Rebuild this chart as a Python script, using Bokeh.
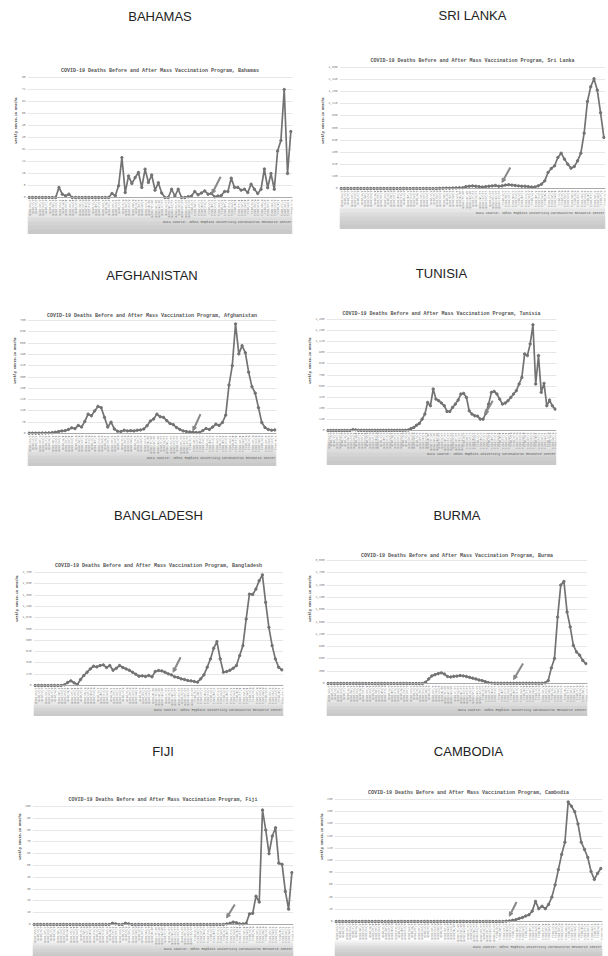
import pandas as pd
from bokeh.plotting import figure
from bokeh.models import (Range1d, FixedTicker, NumeralTickFormatter, Title, Arrow, NormalHead)
from bokeh.core.properties import value
from bokeh.layouts import column, row
from bokeh.embed import file_html
from bokeh.resources import INLINE

START_DATE = "2020-01-26"

BAHAMAS = [0, 0, 0, 0, 0, 0, 0, 0, 0, 6.7, 2.2, 1.1, 2.2, 0,
           0, 0, 0, 0, 0, 0, 0, 0, 0, 0, 0,
           2.7, 1.1, 7.8, 26.6, 3.3, 14.4, 9.3, 13.3, 16.7, 6.7, 18.9, 10, 15, 4.9, 9.8,
           3, 0, 0, 5.5, 1, 5.5, 0, 0, 0.5, 1,
           4, 1.8, 3, 4.4, 2.2, 2.7, 0.4, 1, 1.3, 4,
           4, 12.9, 6.7, 6.7, 4.9, 5.5, 3.3, 8.9, 5.5, 2.7,
           5.5, 19, 6.5, 16, 5.5, 31, 38, 72, 16, 44]
SRI_LANKA = [0] * 30 + [2, 3, 5, 4, 6, 8, 10,
             10, 25, 30, 35, 30, 25, 20, 25, 30, 35, 40, 30, 35,
             45, 50, 45, 40, 35, 30, 30, 25, 20, 20,
             35, 57, 101, 212, 265, 300, 410, 467, 388, 322,
             269, 291, 366, 467, 732, 1151, 1345, 1451, 1301, 1001, 675]
AFGHANISTAN = [2, 2, 2, 2, 3, 3, 4, 5, 8, 12, 16, 18, 25, 35, 30, 50, 40, 75, 120, 110,
               140, 168, 160, 100, 40, 70, 28, 14, 12, 20, 16, 18, 16, 20, 22, 28, 48, 77, 90, 120,
               104, 100, 80, 62, 55, 37, 25, 16, 12, 10, 8, 6, 6, 18, 31, 25, 40, 58, 50, 68,
               114, 300, 420, 679, 493, 544, 500, 380, 290, 250, 160, 68, 37, 25, 20, 22]
TUNISIA = [0] * 9 + [10, 8] + [2] * 17 + [
           3, 6, 25, 38, 67, 89, 143, 207, 354, 312,
           523, 396, 375, 346, 312, 240, 240, 291, 333, 384,
           460, 468, 417, 249, 207, 186, 181, 143, 143, 215,
           333, 481, 493, 460, 396, 333, 346, 375, 417, 460,
           502, 586, 670, 966, 945, 1092, 1333, 586, 945, 481,
           595, 312, 384, 312, 270]
BANGLADESH = [0] * 9 + [10, 45, 70, 40, 15, 90, 150, 200, 250, 290,
              280, 300, 310, 270, 300, 230, 260, 300, 270, 250,
              230, 200, 170, 140, 145, 135, 150, 130, 210, 225,
              220, 200, 175, 160, 130, 120, 100, 90, 75, 70,
              60, 50, 100, 160, 275, 400, 560, 660, 400, 200,
              210, 230, 260, 300, 450, 600, 1000, 1375, 1370, 1450,
              1575, 1665, 1250, 875, 600, 400, 275, 235]
BURMA = [0] * 31 + [30, 110, 185, 215, 240, 260, 230, 170, 160, 175,
         180, 195, 185, 170, 150, 130, 110, 85, 70, 45, 20, 10] + [5] * 16 + [
         15, 70, 380, 610, 1620, 2400, 2490, 1745, 1380, 930, 770, 690, 560, 485]
FIJI = [0] * 24 + [1, 0.5, 0, 0, 1, 0.5] + [0] * 29 + [
        0.5, 1, 2, 1.5, 0.5, 0.5, 1, 9, 9.5, 24, 19, 97, 80, 60, 75, 82, 52, 51, 28, 13, 44]
CAMBODIA = [0] * 52 + [0.5, 1, 2, 3, 5, 6.5, 9, 11, 17, 33,
            21, 25, 21, 28, 40, 60, 85, 110, 130, 196,
            189, 180, 160, 130, 118, 105, 82, 69, 79, 87]

COUNTRIES = ["BAHAMAS", "SRI LANKA", "AFGHANISTAN", "TUNISIA",
             "BANGLADESH", "BURMA", "FIJI", "CAMBODIA"]
CHART_NAMES = ["Bahamas", "Sri Lanka", "Afghanistan", "Tunisia",
               "Bangladesh", "Burma", "Fiji", "Cambodia"]
SERIES = [BAHAMAS, SRI_LANKA, AFGHANISTAN, TUNISIA, BANGLADESH, BURMA, FIJI, CAMBODIA]
Y_MAX = [80, 1600, 700, 1400, 1700, 3000, 100, 200]
Y_STEP = [8, 160, 70, 140, 170, 300, 10, 20]
# vaccination-start pointer: (x_tail, y_tail, x_head, y_head) in data units
POINTERS = [(57.8, 13.8, 55.2, 2.5), (51.5, 278, 49, 80), (52.3, 120, 50, 17),
            (59.5, 375, 56.7, 206), (44.8, 425, 42.5, 200), (62, 487, 59, 97),
            (61.5, 17, 59, 5.6), (55.2, 32, 53, 8.7)]

SOURCE = "Data source: Johns Hopkins University Coronavirus Resource Center"
Y_LABEL = "Weekly COVID-19 Deaths"

FIG_W = 304
ROW_H = [240, 240, 236, 240]
# per panel, in pixels inside its own figure:
# (country_y, chart_title_y, plot_top, plot_bottom, plot_left, plot_right, source_y, band_top, band_bottom)
GEOM = [
    (16, 70, 77, 197, 27, 292, 221, 209, 233),
    (15, 60, 67, 188, 35, 301, 212, 204, 228),
    (35, 75, 80, 193, 27, 276, 217, 205, 225),
    (33, 73, 79, 190, 17, 252, 213, 200, 224),
    (35, 85, 92, 205, 33, 283, 229, 219, 236),
    (35, 75, 80, 203, 18, 283, 229, 215, 236),
    (35, 83, 90, 208, 32, 293, 232, 224, 240),
    (35, 76, 83, 205, 30, 298, 230, 224, 240),
]

MONO = "Liberation Mono"
SANS = "Liberation Sans"
LINE = "#737373"
BAND = ["#f1f1f1", "#e6e6e6", "#dcdcdc", "#d4d4d4", "#cecece", "#c9c9c9"]


def week_labels(n):
    d = pd.date_range(START_DATE, periods=n, freq="7D")
    return [f"{x.month}/{x.day}/{x.year}" for x in d]


def make_panel(k):
    vals = SERIES[k]
    n = len(vals)
    h = ROW_H[k // 2]
    w = FIG_W
    cy, ty, pt, pb, pl, pr, sy, bt, bb = GEOM[k]
    ymax, ystep = Y_MAX[k], Y_STEP[k]

    ppu = (pb - pt) / ymax            # pixels per data unit (vertical)

    def py(pix):                      # figure pixel row -> data y
        return (pb - pix) / ppu

    x0, x1 = -0.5, n - 0.5
    p = figure(width=w, height=h, output_backend="svg", toolbar_location=None, title=None,
               x_range=Range1d(x0, x1), y_range=Range1d(py(h), py(0)),
               min_border_left=pl, min_border_right=w - pr,
               min_border_top=0, min_border_bottom=0)
    p.outline_line_color = None
    p.background_fill_color = "white"
    p.border_fill_color = "white"
    p.xgrid.visible = False
    p.ygrid.grid_line_color = "#e1e1e1"
    p.ygrid.grid_line_width = 0.8

    # gray band behind the dates / source line
    m = len(BAND)
    edges = [bt + (bb - bt) * j / m for j in range(m + 1)]
    p.quad(left=[x0] * m, right=[x1] * m,
           top=[py(e) for e in edges[:-1]], bottom=[py(e + 0.6) for e in edges[1:]],
           fill_color=BAND, line_color=None)

    xs = list(range(n))
    p.line(xs, vals, line_color=LINE, line_width=1.7)
    p.scatter(xs, vals, size=2.4, fill_color=LINE, line_color=LINE)

    xt, yt, xh, yh = POINTERS[k]
    p.add_layout(Arrow(x_start=xt, y_start=yt, x_end=xh, y_end=yh,
                       line_color="#888888", line_width=2,
                       end=NormalHead(size=4, fill_color="#888888", line_color="#888888")))

    # titles and source line
    xc = (x0 + x1) / 2
    p.text(x=[xc], y=[py(cy)], text=[COUNTRIES[k]], text_align="center", text_baseline="middle",
           text_font=value(SANS), text_font_size="13px", text_color="#222222")
    p.text(x=[xc], y=[py(ty)],
           text=[f"COVID-19 Deaths Before and After Mass Vaccination Program, {CHART_NAMES[k]}"],
           text_align="center", text_baseline="middle",
           text_font=value(MONO), text_font_size="5px", text_font_style="bold",
           text_color="#555555")
    p.text(x=[x1 - 0.3], y=[py(sy)], text=[SOURCE], text_align="right", text_baseline="middle",
           text_font=value(MONO), text_font_size="3.3px", text_color="#555555")

    # y axis
    ticks = [ystep * i for i in range(int(round(ymax / ystep)) + 1)]
    p.yaxis.ticker = FixedTicker(ticks=ticks)
    p.yaxis.formatter = NumeralTickFormatter(format="0,0")
    p.yaxis.axis_line_color = None
    p.yaxis.major_tick_line_color = None
    p.yaxis.minor_tick_line_color = None
    p.yaxis.major_tick_out = 0
    p.yaxis.minor_tick_out = 0
    p.yaxis.major_label_text_font = MONO
    p.yaxis.major_label_text_font_size = "3px"
    p.yaxis.major_label_text_color = "#777777"
    p.yaxis.major_label_standoff = 2
    frame_mid = h / 2
    plot_mid = (pt + pb) / 2
    p.add_layout(Title(text=Y_LABEL, align="center", offset=frame_mid - plot_mid,
                       text_font=MONO, text_font_size="3.5px", text_font_style="bold",
                       text_color="#444444", standoff=2), "left")

    # x axis (dates) sitting on the zero line
    labels = week_labels(n)
    p.xaxis.fixed_location = 0
    p.xaxis.ticker = FixedTicker(ticks=xs)
    p.xaxis.major_label_overrides = {i: lab for i, lab in enumerate(labels)}
    p.xaxis.major_label_orientation = "vertical"
    p.xaxis.major_label_text_font = MONO
    p.xaxis.major_label_text_font_size = "3px"
    p.xaxis.major_label_text_color = "#777777"
    p.xaxis.major_label_standoff = 2
    p.xaxis.axis_line_color = "#aaaaaa"
    p.xaxis.major_tick_line_color = None
    p.xaxis.minor_tick_line_color = None
    p.xaxis.major_tick_out = 0
    p.xaxis.minor_tick_out = 0
    return p


panels = [make_panel(k) for k in range(8)]
layout = column(*[row(panels[2 * r], panels[2 * r + 1]) for r in range(4)])

with open("out.html", "w") as f:
    f.write(file_html(layout, INLINE))
